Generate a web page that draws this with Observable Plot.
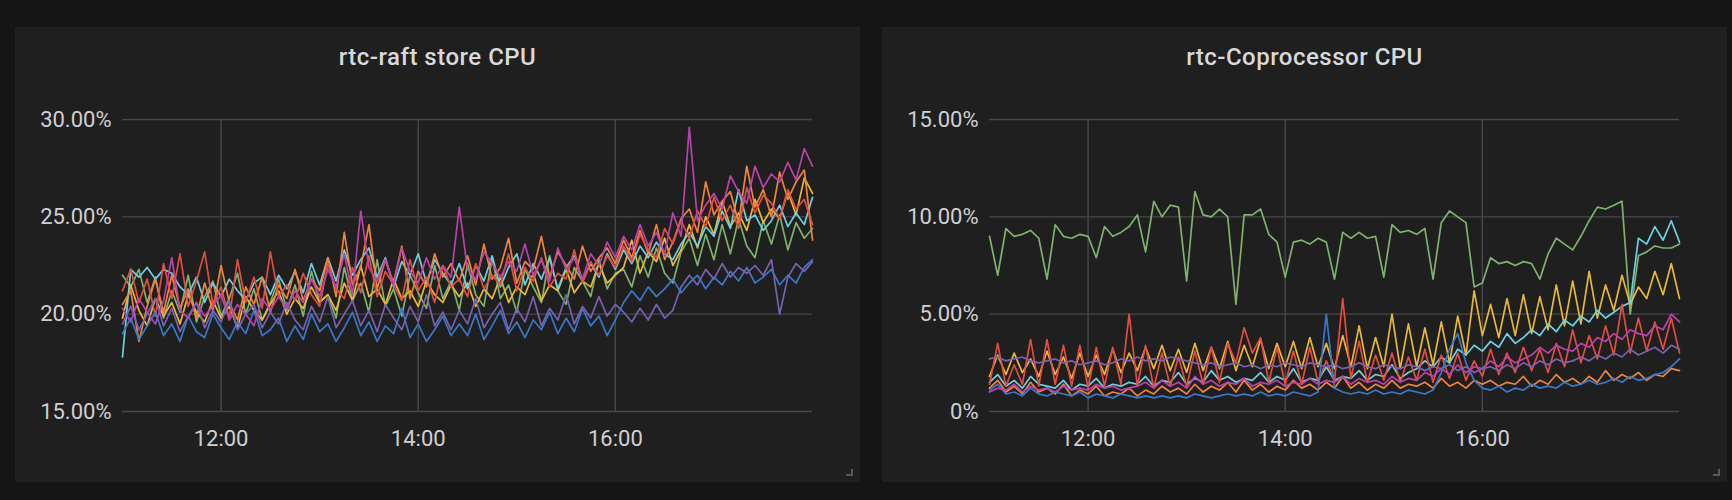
<!DOCTYPE html>
<html>
<head>
<meta charset="utf-8">
<script src="https://cdn.jsdelivr.net/npm/d3@7"></script>
<script src="https://cdn.jsdelivr.net/npm/@observablehq/plot@0.6"></script>
<style>
  body { margin: 0; background: #151516; width: 1732px; height: 500px; overflow: hidden;
         font-family: Roboto, "Helvetica Neue", Arial, sans-serif; }
  .panel { position: absolute; top: 27px; width: 845px; height: 455px; background: #1f1f20; }
  .panel .title { position: absolute; top: 18px; left: 0; right: 0; text-align: center;
         font-size: 24px; line-height: 24px; font-weight: 500; color: #d8d9da; letter-spacing: 0.5px; }
  .panel svg { position: absolute; left: 0; top: 0; }
  .corner { position: absolute; right: 7px; bottom: 6px; width: 5px; height: 5px;
         border-right: 2px solid #5a5a5c; border-bottom: 2px solid #5a5a5c; }
</style>
</head>
<body>
<div class="panel" id="raft" style="left:15px"><div class="title">rtc-raft store CPU</div><div class="corner"></div></div>
<div class="panel" id="cop" style="left:882px"><div class="title">rtc-Coprocessor CPU</div><div class="corner"></div></div>
<script>
// one sample every 5 minutes, 11:00 -> 18:00
const start = new Date(2019, 0, 1, 11, 0);
const end = new Date(2019, 0, 1, 18, 0);
const times = d3.range(85).map(i => new Date(2019, 0, 1, 11, 5 * i));
const xTicks = [new Date(2019, 0, 1, 12, 0), new Date(2019, 0, 1, 14, 0), new Date(2019, 0, 1, 16, 0)];

const hosts = ["tikv-1", "tikv-2", "tikv-3", "tikv-4", "tikv-5", "tikv-6", "tikv-7", "tikv-8"];
const colors = ["#7EB26D", "#EAB839", "#6ED0E0", "#EF843C", "#E24D42", "#3a78c8", "#BA43A9", "#7862b0"];

// rtc-raft store CPU (%)
const raftGreen = [22.0,21.4,22.3,20.6,21.9,19.8,21.2,20.1,22.0,19.6,20.9,21.7,19.9,20.8,22.1,20.0,21.3,19.7,20.6,21.8,20.2,
  21.5,19.9,22.2,20.6,21.0,19.8,22.4,20.7,21.6,20.1,22.8,20.4,21.3,19.9,22.0,21.1,20.3,22.5,20.8,21.7,
  20.2,22.6,21.0,20.4,22.9,20.8,21.5,20.1,22.3,21.4,20.6,23.0,21.2,20.5,22.4,21.7,20.9,22.8,21.3,22.1,
  22.3,21.4,23.0,21.9,23.4,22.1,21.6,23.2,23.9,22.5,24.1,22.8,24.6,23.1,24.9,23.5,22.9,24.8,23.6,25.1,23.3,24.7,23.9,24.4];
const raftYellow = [19.8,21.5,20.2,19.4,20.8,19.9,20.6,19.5,21.0,20.1,19.6,20.7,19.8,20.4,19.3,20.9,20.2,19.7,20.5,21.2,20.0,
  20.8,20.3,21.4,20.6,21.0,20.2,21.6,20.7,22.5,20.9,21.3,20.5,21.8,20.8,21.2,20.4,21.7,21.0,20.6,21.5,
  20.9,21.6,20.4,21.3,20.8,21.9,20.6,21.4,21.0,22.1,20.7,21.5,21.2,22.3,21.1,21.7,21.4,22.6,21.6,22.0,
  22.4,23.8,22.1,23.2,22.7,23.9,22.5,23.3,24.6,23.4,25.0,24.1,25.8,24.5,25.2,24.3,25.9,24.7,25.4,24.9,26.3,25.1,27.0,26.2];
const raftCyan = [17.8,22.3,21.9,22.4,21.8,22.3,22.1,21.4,21.0,21.9,20.6,21.6,20.9,21.8,21.2,20.7,21.6,21.9,21.0,22.0,21.3,
  22.2,21.1,22.6,21.5,22.9,21.7,23.3,22.0,22.8,23.4,21.9,22.9,21.4,22.7,22.0,23.1,21.6,22.8,22.1,21.5,
  22.6,21.3,22.5,21.7,23.0,21.4,22.4,23.1,21.5,22.6,21.8,22.9,21.3,22.4,23.0,21.7,22.6,21.9,23.1,22.3,
  23.3,22.6,23.5,22.9,23.7,23.1,22.8,23.6,24.2,23.5,24.5,24.0,25.3,24.4,26.4,24.8,25.1,24.3,24.8,25.6,24.5,25.2,24.6,26.0];
const raftOrange = [20.5,21.2,18.6,20.4,21.8,20.1,22.0,20.3,21.3,19.8,21.6,20.2,22.5,20.6,19.7,21.4,20.5,21.9,20.1,21.5,20.8,
  22.3,20.7,21.8,21.2,22.9,20.9,24.2,21.5,22.4,24.6,21.3,22.8,21.6,23.5,20.8,22.2,21.4,23.1,21.9,22.6,
  21.7,23.0,21.5,23.6,21.8,22.4,23.9,21.6,22.7,22.3,24.0,21.9,23.2,22.5,21.8,23.5,22.2,22.9,23.4,22.6,
  23.8,22.9,24.3,23.1,24.6,22.8,23.7,24.9,25.4,24.2,26.8,25.1,25.8,26.3,24.7,27.6,25.5,26.4,25.0,27.3,25.9,26.8,27.4,23.8];
const raftRed = [21.2,22.3,20.6,21.8,19.9,22.6,20.8,23.1,20.4,21.7,23.2,20.5,21.4,19.8,22.8,20.6,21.9,20.3,23.2,20.9,21.5,
  20.7,22.1,21.0,20.4,22.6,21.3,20.8,22.4,21.1,23.0,20.9,22.2,21.5,20.7,22.8,21.2,21.9,20.6,22.5,21.4,
  21.8,20.9,22.6,21.3,22.0,21.5,23.1,21.2,22.4,21.7,22.9,21.4,22.1,21.8,23.3,21.6,22.7,22.0,23.0,22.4,
  23.5,22.7,24.1,23.3,22.9,24.4,23.6,24.8,23.9,25.3,24.5,26.0,24.8,25.6,24.4,26.5,25.2,26.1,25.7,24.9,26.4,25.4,25.9,24.6];
const raftBlue = [19.0,19.8,18.7,19.4,20.1,18.9,19.5,18.6,19.9,19.1,18.8,20.0,19.3,18.7,19.6,19.0,20.2,18.9,19.2,19.8,18.6,
  19.4,18.7,20.0,19.1,19.5,18.6,19.3,20.1,18.9,19.6,18.6,19.4,19.0,20.3,18.8,19.5,18.6,19.2,19.9,18.9,
  19.5,18.9,20.0,18.7,19.4,20.2,19.0,19.6,18.8,19.7,19.2,20.1,19.0,19.8,19.1,20.3,19.4,19.9,18.9,19.7,
  20.6,21.2,20.7,21.4,20.9,21.3,21.8,21.1,21.6,22.0,21.3,21.9,21.5,22.2,21.7,22.4,21.6,21.9,22.3,21.5,22.0,21.6,22.4,22.8];
const raftMagenta = [20.3,19.6,20.8,20.1,19.5,20.7,22.9,20.2,19.8,20.6,19.9,20.4,21.0,19.7,20.5,20.0,19.4,20.8,20.2,20.9,20.3,
  21.2,20.6,21.8,20.9,22.3,21.4,23.1,21.0,25.3,22.4,21.7,22.8,21.5,23.4,22.2,21.6,22.9,21.8,22.5,21.9,
  25.5,22.3,21.8,23.2,22.6,21.9,22.7,22.2,23.6,22.0,22.8,21.7,23.4,22.3,22.9,21.8,23.1,22.5,23.7,22.9,
  24.0,23.3,24.6,23.5,24.2,23.1,25.2,24.0,29.6,24.8,25.6,26.2,25.4,27.1,26.3,25.7,27.6,26.5,27.2,26.8,27.8,26.9,28.5,27.6];
const raftViolet = [19.5,20.4,19.2,20.0,20.8,19.4,20.3,19.1,19.9,20.6,19.3,20.2,19.6,20.7,19.2,20.0,20.5,19.3,20.1,19.5,20.6,
  19.7,19.2,20.4,19.6,20.9,19.3,20.0,20.7,19.4,20.2,19.1,20.5,19.8,19.2,20.4,19.6,21.0,19.4,20.1,19.2,
  20.2,19.5,20.8,19.3,20.0,20.6,19.2,20.3,19.6,20.9,19.4,20.3,19.7,21.0,19.5,20.4,19.8,20.9,19.9,20.5,
  20.1,19.6,20.3,19.7,20.5,19.8,20.2,21.4,22.0,21.5,22.3,21.8,22.6,21.9,22.4,22.1,22.5,22.0,22.8,20.0,21.9,22.6,22.2,22.7];

// rtc-Coprocessor CPU (%)
const copGreen = [9.0,7.0,9.4,9.0,9.1,9.3,8.9,6.8,9.6,9.0,8.9,9.1,9.0,7.9,9.5,9.0,9.2,9.5,10.1,8.2,
  10.8,10.0,10.6,10.5,6.7,11.3,10.1,10.0,10.4,10.0,5.5,10.1,10.1,10.4,9.1,8.7,6.9,8.7,8.8,8.6,
  8.9,8.7,6.8,9.2,8.9,9.2,8.9,9.0,6.9,9.6,9.2,9.3,9.1,9.4,6.8,9.7,10.3,10.0,9.7,6.4,
  6.6,7.9,7.6,7.7,7.5,7.7,7.6,6.8,8.1,8.9,8.6,8.3,9.0,9.8,10.5,10.4,10.6,10.8,5.0,8.0,
  8.2,8.5,8.4,8.4,8.6];
const copYellow = [1.8,2.9,1.9,3.0,2.0,2.7,1.8,3.1,1.9,2.8,1.7,3.0,1.8,2.9,1.9,3.2,2.0,3.0,2.1,3.3,
  2.2,3.4,2.1,3.2,2.0,3.5,2.1,3.3,2.2,3.6,2.1,3.4,2.3,3.7,2.2,3.5,2.3,3.6,2.2,3.8,
  2.3,3.5,2.2,3.9,2.3,4.4,2.2,3.8,2.3,5.0,2.2,4.5,2.3,4.3,2.4,4.6,2.5,4.9,2.9,6.2,
  3.9,5.5,3.8,5.8,3.9,6.0,4.0,5.9,4.2,6.5,4.4,6.7,4.5,7.2,4.8,6.5,5.2,7.0,5.5,6.4,
  5.8,7.2,6.0,7.6,5.8];
const copCyan = [1.5,1.9,1.3,1.6,1.2,1.8,1.4,1.3,1.2,1.6,1.1,1.4,1.3,1.7,1.2,1.4,1.3,1.5,1.4,1.8,
  1.3,1.6,1.5,2.0,1.4,1.7,1.5,2.1,1.6,1.8,1.5,1.7,1.6,2.0,1.5,1.8,1.6,2.2,1.5,1.7,
  1.6,2.3,1.6,1.8,1.7,2.1,1.6,1.9,1.8,2.4,1.7,2.0,2.2,2.6,2.3,2.8,2.5,3.2,2.9,3.4,
  3.1,3.6,3.3,4.0,3.5,3.8,4.2,3.9,4.5,4.1,4.7,4.4,4.9,4.6,5.2,4.8,5.1,5.4,5.6,8.9,
  8.6,9.5,8.8,9.8,8.7];
const copOrange = [1.2,1.6,1.0,1.3,0.9,1.5,1.0,1.2,0.9,1.4,0.8,1.1,0.9,1.3,0.8,1.0,0.9,1.2,0.8,1.1,
  0.9,1.3,1.0,1.2,0.9,1.4,1.0,1.3,1.1,1.5,1.0,1.6,1.1,1.4,1.0,1.3,1.1,1.6,1.2,1.4,
  1.1,1.5,1.2,1.8,1.2,1.5,1.1,1.4,1.2,1.6,1.2,1.4,1.3,1.5,1.2,1.7,1.3,1.5,1.2,1.6,
  1.4,1.6,1.3,1.5,1.4,1.8,1.3,1.6,1.4,1.9,1.5,1.7,1.4,1.8,1.5,2.1,1.6,1.9,1.7,2.0,
  1.6,1.9,1.8,2.2,2.1];
const copRed = [1.4,3.5,1.3,2.4,1.4,3.7,1.3,3.7,1.4,3.4,1.3,3.4,1.2,3.3,1.3,3.3,1.4,5.0,1.3,3.4,
  1.2,3.0,1.3,2.8,1.3,3.1,1.4,3.3,1.5,3.5,2.5,4.3,3.0,3.8,1.5,3.3,1.4,3.1,1.4,3.3,
  1.5,2.6,1.6,5.8,1.7,3.6,1.5,2.9,1.6,3.0,1.5,2.8,1.6,3.2,1.5,2.9,1.7,3.0,1.6,2.6,
  1.8,3.2,1.9,3.0,2.0,3.3,2.1,3.2,2.0,3.5,2.3,4.2,2.5,3.9,2.7,4.4,2.9,5.5,3.0,4.8,
  3.1,4.6,3.2,4.8,3.0];
const copBlue = [1.1,1.4,0.9,1.0,0.8,1.2,0.9,0.8,1.0,0.9,0.8,1.0,0.7,0.9,0.8,0.7,0.9,0.8,0.7,0.8,
  0.7,0.8,0.7,0.8,0.7,0.9,0.8,0.7,0.8,0.9,0.8,0.9,0.8,1.0,0.8,0.9,0.8,1.0,0.9,0.8,
  1.0,5.0,1.2,1.0,0.9,1.0,0.9,1.1,0.9,1.0,0.9,1.1,1.0,0.9,1.1,2.0,3.2,4.0,2.5,1.6,
  1.2,1.1,1.3,1.0,1.2,1.1,1.4,1.2,1.3,1.2,1.5,1.3,1.4,1.6,1.4,1.5,1.7,1.5,1.8,1.6,
  1.7,1.9,2.0,2.3,2.7];
const copMagenta = [1.0,1.2,1.1,1.4,1.0,1.3,1.1,1.2,1.0,1.3,1.1,1.2,1.1,1.4,1.2,1.3,1.1,1.2,1.3,1.5,
  1.2,1.6,1.3,1.5,1.2,1.8,1.4,1.6,1.3,1.5,1.4,1.7,1.3,1.5,1.4,1.6,1.3,1.5,1.4,1.7,
  1.4,1.6,1.5,1.8,1.4,1.7,1.5,1.6,1.4,1.8,1.5,1.7,1.6,2.0,1.8,2.2,1.9,2.4,2.0,2.3,
  2.2,2.6,2.3,2.8,2.5,2.7,2.9,3.3,3.0,3.4,3.2,3.1,3.5,3.3,3.8,3.6,4.0,3.7,4.2,4.0,
  3.9,4.4,4.2,5.0,4.6];
const copViolet = [2.7,2.8,2.6,2.7,2.8,2.6,2.5,2.6,2.7,2.5,2.6,2.4,2.5,2.6,2.4,2.5,2.7,2.6,2.8,2.6,
  2.7,2.6,2.8,2.7,2.6,2.5,2.4,2.5,2.3,2.4,2.5,2.3,2.4,2.2,2.4,2.3,2.5,2.4,2.3,2.5,
  2.4,2.3,2.4,2.2,2.3,2.5,2.3,2.2,2.4,2.3,2.2,2.4,2.3,2.1,2.3,2.2,2.4,2.1,2.3,2.0,
  2.2,2.3,2.1,2.4,2.2,2.5,2.3,2.6,2.4,2.7,2.5,2.6,2.8,2.6,2.9,2.7,3.0,2.8,3.2,2.9,
  3.1,3.3,3.0,3.4,3.2];

const raftValues = [raftGreen, raftYellow, raftCyan, raftOrange, raftRed, raftBlue, raftMagenta, raftViolet];
const copValues = [copGreen, copYellow, copCyan, copOrange, copRed, copBlue, copMagenta, copViolet];

function drawPanel(id, values, yDomain, yTicks, yFormat) {
  const rows = [];
  hosts.forEach((h, k) => values[k].forEach((v, i) => rows.push({time: times[i], value: v, host: h})));
  const chart = Plot.plot({
    width: 845,
    height: 455,
    marginLeft: 107,
    marginRight: 48,
    marginTop: 92,
    marginBottom: 71,
    style: {background: "transparent", color: "#d0d0d2", fontFamily: "Roboto, sans-serif", fontSize: "22px"},
    x: {type: "time", domain: [start, end]},
    y: {domain: yDomain},
    color: {type: "ordinal", domain: hosts, range: colors},
    marks: [
      Plot.gridY(yTicks, {stroke: "#48484a", strokeOpacity: 1, strokeWidth: 1.4}),
      Plot.gridX(xTicks, {stroke: "#48484a", strokeOpacity: 1, strokeWidth: 1.4}),
      Plot.axisY(yTicks, {tickSize: 0, tickPadding: 11, tickFormat: yFormat, label: null, fontSize: 22}),
      Plot.axisX(xTicks, {tickSize: 0, tickPadding: 19, tickFormat: d3.timeFormat("%H:%M"), label: null, fontSize: 22}),
      Plot.lineY(rows, {x: "time", y: "value", z: "host", stroke: "host", strokeWidth: 1.7})
    ]
  });
  d3.select("#" + id).insert(() => chart, ":first-child");
}

drawPanel("raft", raftValues, [15, 30], [15, 20, 25, 30], d => d.toFixed(2) + "%");
drawPanel("cop", copValues, [0, 15], [0, 5, 10, 15], d => d === 0 ? "0%" : d.toFixed(2) + "%");
</script>
</body>
</html>
